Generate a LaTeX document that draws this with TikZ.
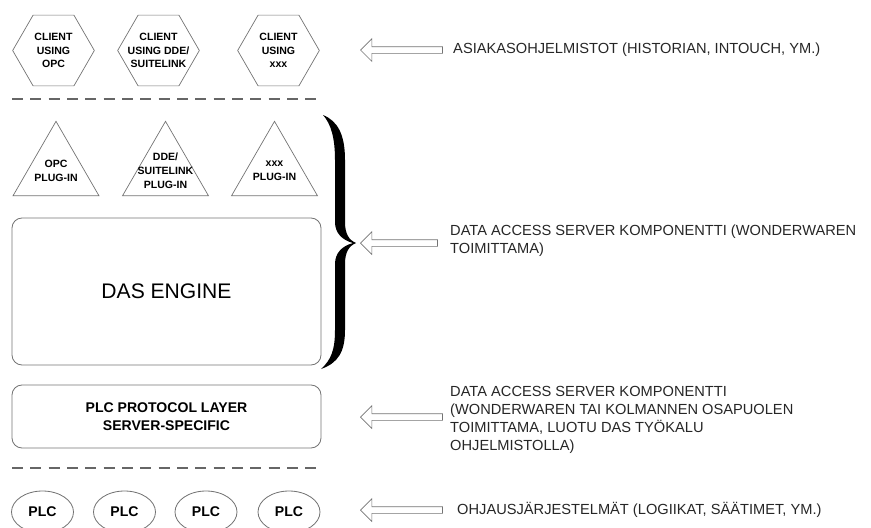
\documentclass[tikz,border=0pt]{standalone}
\usepackage{fontspec}
\setmainfont{Liberation Sans}
\usetikzlibrary{shapes.geometric,shapes.arrows}

\tikzset{
  client/.style={regular polygon, regular polygon sides=6, draw=black!55, line width=0.6pt, minimum size=2.45cm, inner sep=0pt},
  plugin/.style={regular polygon, regular polygon sides=3, draw=black!55, line width=0.6pt, minimum size=2.98cm, inner sep=0pt},
  hextext/.style={font=\bfseries\fontsize{9}{11.5}\selectfont, align=center, inner sep=0pt},
  plugtext/.style={font=\bfseries\fontsize{9}{12}\selectfont, align=center, inner sep=0pt},
  layerbox/.style={rectangle, rounded corners=0.3cm, draw=black!55, line width=0.7pt, minimum width=9.27cm},
  plc/.style={ellipse, draw=black!55, line width=0.7pt, minimum width=1.86cm, minimum height=1.26cm, font=\bfseries\fontsize{12}{14}\selectfont},
  sepline/.style={dash pattern=on 0.33cm off 0.22cm, draw=black!60, line width=1.1pt},
  blockarrow/.style={single arrow, draw=black!55, line width=0.6pt, shape border rotate=180, minimum height=2.46cm, single arrow head extend=0.24cm, inner sep=0.09cm, anchor=tip},
  note/.style={anchor=west, align=left, inner sep=0pt, text=black!85, font=\fontsize{12.5}{15.3}\selectfont},
}

\begin{document}
\begin{tikzpicture}[x=0.03cm,y=-0.03cm]
  \useasboundingbox (0,0) rectangle (871,527);

  % clients
  \node[client, label={[hextext]center:CLIENT\\USING\\OPC}] (clientOpc) at (53.5,50.5) {};
  \node[client, label={[hextext]center:CLIENT\\USING DDE/\\SUITELINK}] (clientDde) at (158.5,50.5) {};
  \node[client, label={[hextext]center:CLIENT\\USING\\xxx}] (clientXxx) at (278.5,50.5) {};
  \draw[sepline] (12,99) -- (320,99);

  % server
  \node[plugin, label={[plugtext]center:OPC\\PLUG-IN}] (plugOpc) at (56,171) {};
  \node[plugin, label={[plugtext]center:DDE/\\SUITELINK\\PLUG-IN}] (plugDde) at (165.5,171) {};
  \node[plugin, label={[plugtext]center:xxx\\PLUG-IN}] (plugXxx) at (274.5,171) {};
  \node[layerbox, minimum height=4.41cm, font=\fontsize{18}{22}\selectfont] (dasEngine) at (166.5,291.5) {DAS ENGINE};
  \node[layerbox, minimum height=1.89cm, align=center, font=\bfseries\fontsize{12}{15.3}\selectfont] (plcLayer) at (166.5,416.5) {PLC PROTOCOL LAYER\\SERVER-SPECIFIC};
  \fill[black] (323,115) .. controls (338,121) and (345,135) .. (345,160) -- (345,222)
    .. controls (345,234) and (349,240) .. (356,243) .. controls (349,246) and (345,252) .. (345,264)
    -- (345,330) .. controls (345,352) and (338,363) .. (321,369)
    .. controls (331,360) and (335,350) .. (335,330) -- (335,264)
    .. controls (335,253) and (342,246) .. (353,243) .. controls (342,240) and (335,233) .. (335,222)
    -- (335,160) .. controls (335,138) and (331,124) .. (323,115) -- cycle;
  \draw[sepline] (12,468) -- (320,468);

  % plcs
  \foreach \i/\x in {1/42.5,2/124.5,3/206,4/289}
    \node[plc] (plc\i) at (\x,512) {PLC};

  % notes
  \node[blockarrow] (arrClient) at (360,50) {};
  \node[blockarrow, minimum height=2.31cm] (arrServer) at (360,243) {};
  \node[blockarrow] (arrLayer) at (360,417) {};
  \node[blockarrow] (arrPlc) at (360,510) {};
  \node[note] (txtClient) at (453,50) {ASIAKASOHJELMISTOT (HISTORIAN, INTOUCH, YM.)};
  \node[note] (txtServer) at (450,241) {DATA ACCESS SERVER KOMPONENTTI (WONDERWAREN\\TOIMITTAMA)};
  \node[note] (txtLayer) at (450,420) {DATA ACCESS SERVER KOMPONENTTI\\(WONDERWAREN TAI KOLMANNEN OSAPUOLEN\\TOIMITTAMA, LUOTU DAS TYÖKALU\\OHJELMISTOLLA)};
  \node[note] (txtPlc) at (457,510) {OHJAUSJÄRJESTELMÄT (LOGIIKAT, SÄÄTIMET, YM.)};
\end{tikzpicture}
\end{document}
